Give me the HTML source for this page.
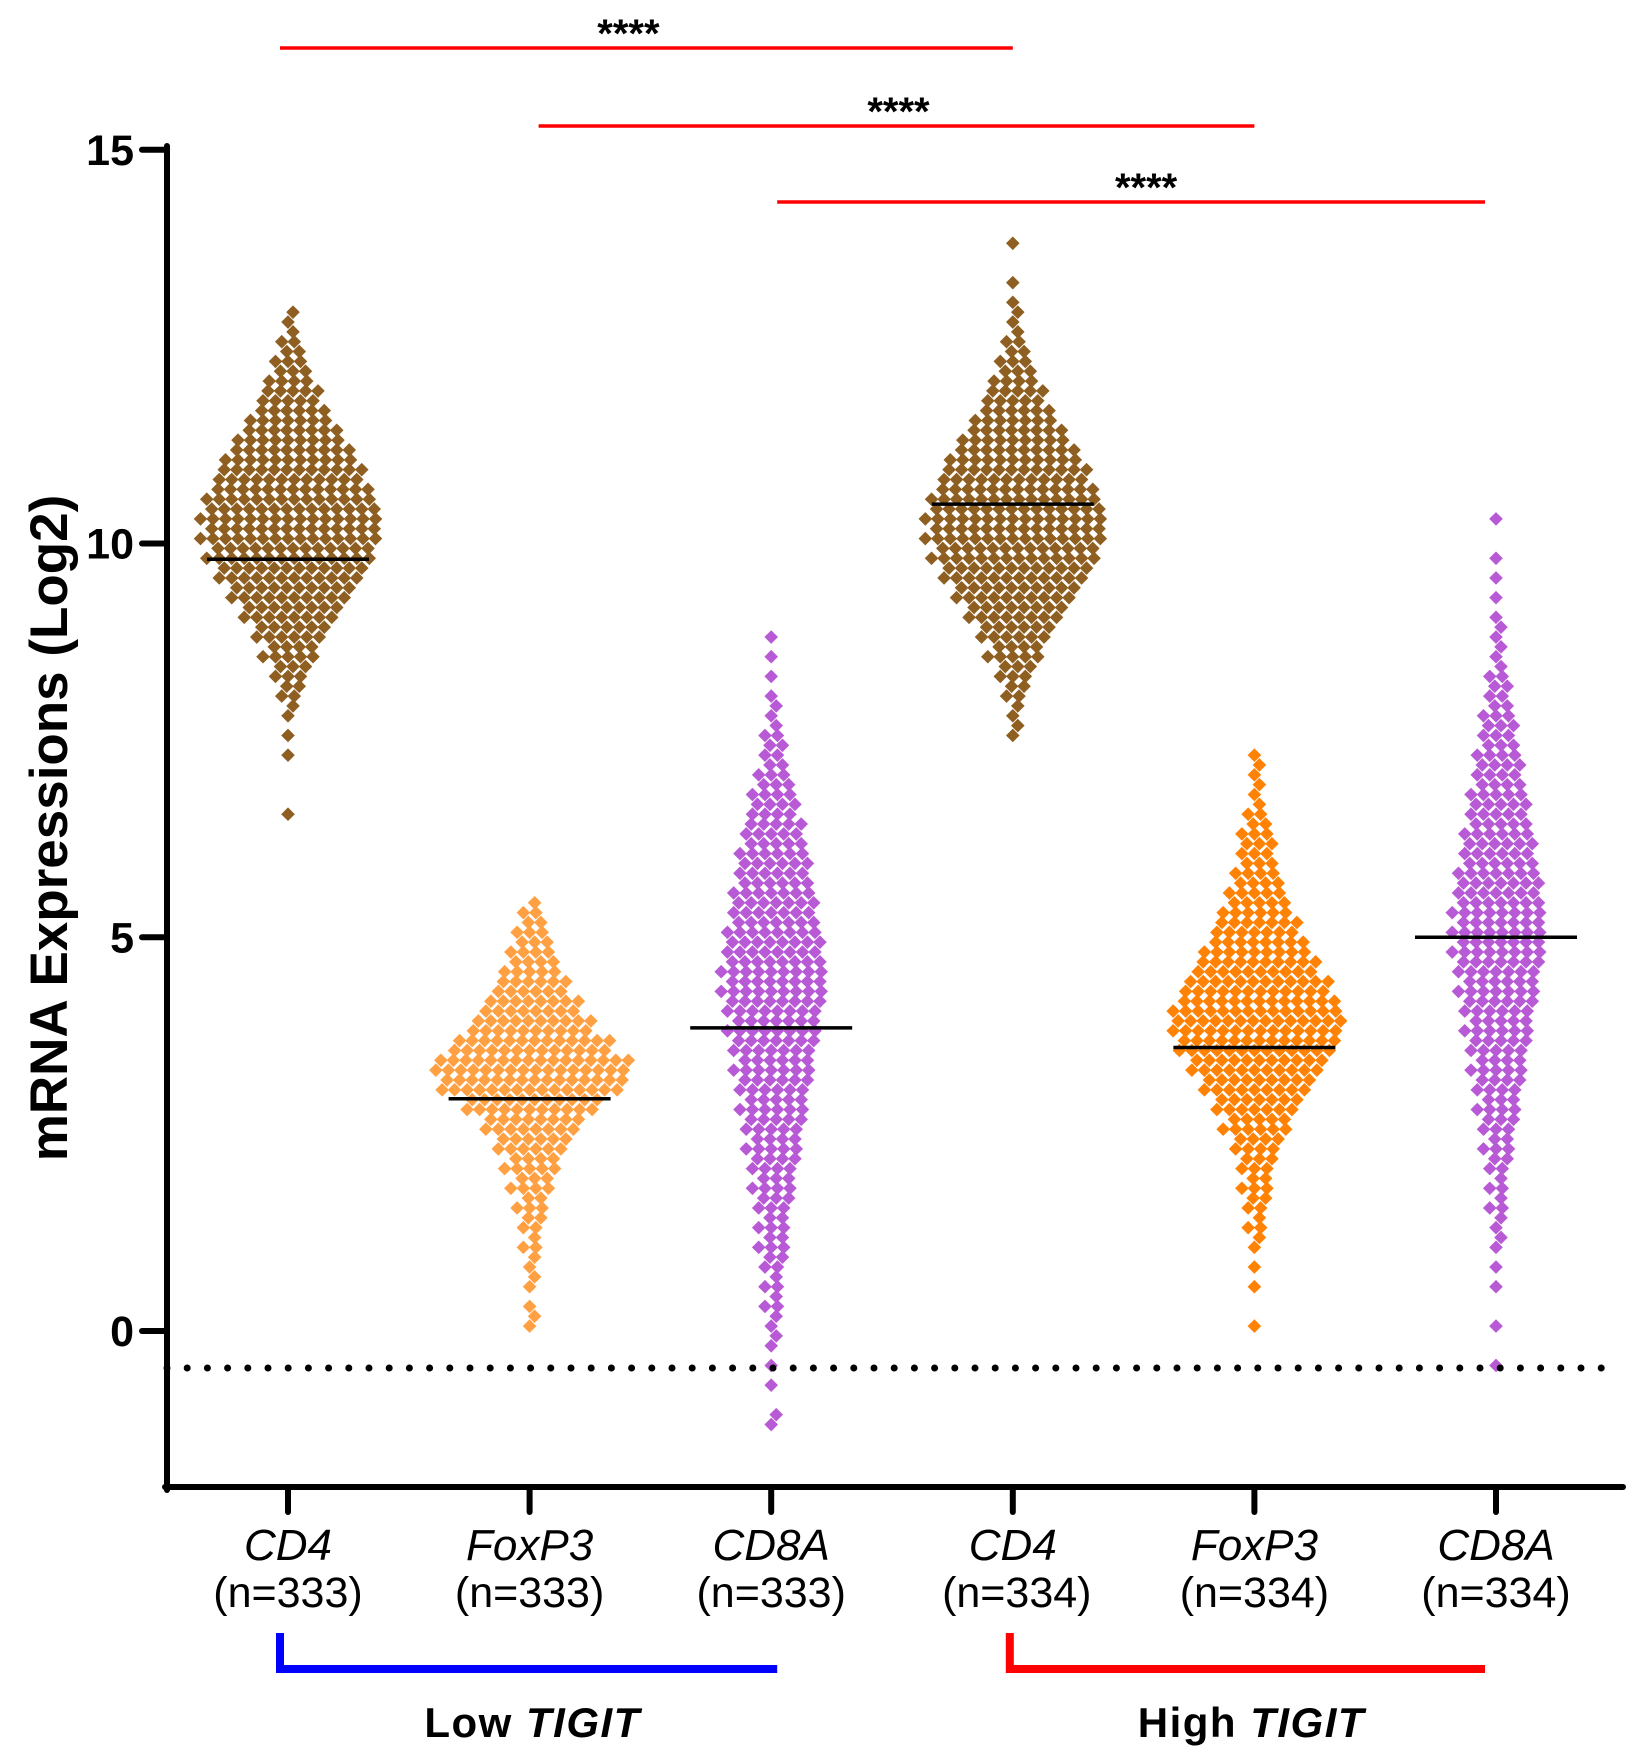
<!DOCTYPE html>
<html><head><meta charset="utf-8"><style>
html,body{margin:0;padding:0;background:#fff;}
svg{display:block;font-family:"Liberation Sans",Arial,sans-serif;}
</style></head><body>
<svg id="chart" width="1642" height="1757" viewBox="0 0 1642 1757">
<g id="pts"></g>
<g id="axes"></g>
</svg>
<script>
const categories = ["CD4","FoxP3","CD8A","CD4","FoxP3","CD8A"];
const nLabels = ["(n=333)","(n=333)","(n=333)","(n=334)","(n=334)","(n=334)"];
const medians = [9.8, 2.95, 3.85, 10.5, 3.6, 5.0];
const binStarts = [6.25, 0, -1.25, 7.5, 0, -0.5];
const cd4LowBins = [0,1,0,0,1,1,2,4,6,9,12,16,20,24,27,29,29,27,24,21,17,13,10,7,5,3,2];
const foxLowBins = [2,1,2,2,3,4,5,7,9,12,16,22,30,32,26,20,16,12,9,7,5,3];
const cd8LowBins = [2,0,1,1,2,2,3,3,4,5,5,6,7,8,9,10,11,12,13,14,15,16,17,17,16,15,14,13,12,11,10,8,7,5,4,3,2,1,1,1,1];
const cd4HighBins = [2,2,4,6,9,12,16,20,24,27,29,29,27,24,21,17,13,10,7,5,3,2,1,1,0,1];
const foxHighBins = [1,0,1,1,2,3,4,5,6,8,11,14,18,22,26,28,27,24,20,17,14,11,9,7,6,5,3,2,2,1];
const cd8HighBins = [1,0,1,0,1,1,2,2,3,3,4,5,6,7,8,9,10,11,12,13,14,15,15,15,14,13,12,11,10,9,8,7,6,5,4,3,2,2,1,1,1,1,0,1];
const yTicks = [0,5,10,15];
const sigBars = [[0,3,"****"],[1,4,"****"],[2,5,"****"]];

const allBins=[cd4LowBins,foxLowBins,cd8LowBins,cd4HighBins,foxHighBins,cd8HighBins];
const colors=["#8E5F21","#FFA043","#B85AD6","#8E5F21","#FF8205","#B85AD6"];
const binW=0.25;
const y=v=>1331-v*78.75;
const x=i=>288+i*241.6;
const NS="http://www.w3.org/2000/svg";
function mk(tag,attrs,parent){const e=document.createElementNS(NS,tag);for(const k in attrs)e.setAttribute(k,attrs[k]);parent.appendChild(e);return e;}
const pts=document.getElementById('pts'), ax=document.getElementById('axes');

allBins.forEach((bins,g)=>{
  const grp=mk('g',{fill:colors[g]},pts);
  
  
  bins.forEach((c,b)=>{
    const v0=binStarts[g]+b*binW;
    for(let i=0;i<c;i++){
      const row=i%2, k=Math.floor(i/2), rowN=Math.ceil((c-row)/2);
      const off=(k-(rowN-1)/2)*12.5 + (row?5:0);
      const v=v0+binW*(row?0.75:0.25);
      const cx=x(g)+off, cy=y(v);
      const r=6.8;
      const d=mk('path',{d:`M${cx} ${cy-r}L${cx+r} ${cy}L${cx} ${cy+r}L${cx-r} ${cy}Z`},grp);
      
      
    }
  });
});
medians.forEach((m,g)=>{
  const l=mk('line',{x1:x(g)-81,x2:x(g)+81,y1:y(m),y2:y(m),stroke:'#000','stroke-width':3.5},ax);
  
  
});
const dl=mk('line',{x1:167,x2:1610,y1:1368,y2:1368,stroke:'#000','stroke-width':7,'stroke-dasharray':'0 20.2','stroke-linecap':'round'},ax);


const ya=mk('line',{x1:167,x2:167,y1:146,y2:1490,stroke:'#000','stroke-width':6,'stroke-linecap':'round'},ax);


const xa=mk('line',{x1:165,x2:1623,y1:1487,y2:1487,stroke:'#000','stroke-width':6,'stroke-linecap':'round'},ax);


yTicks.forEach(t=>{
  const tk=mk('line',{x1:142,x2:167,y1:y(t),y2:y(t),stroke:'#000','stroke-width':6,'stroke-linecap':'round'},ax);
  
  
  const tl=mk('text',{x:134,y:y(t)+15,'text-anchor':'end','font-size':43,'font-weight':'bold'},ax);
  tl.textContent=t;
  
  
});
categories.forEach((c,g)=>{
  const tk=mk('line',{x1:x(g),x2:x(g),y1:1487,y2:1512,stroke:'#000','stroke-width':6,'stroke-linecap':'round'},ax);
  
  
  const t1=mk('text',{x:x(g),y:1560,'text-anchor':'middle','font-size':44,'font-style':'italic'},ax);
  t1.textContent=c;
  
  
  const t2=mk('text',{x:x(g)+(g==3?4:0),y:1607,'text-anchor':'middle','font-size':43},ax);
  t2.textContent=nLabels[g];
  
  
});
const yt=mk('text',{x:0,y:0,transform:'translate(67 828) rotate(-90)','text-anchor':'middle','font-size':53,'font-weight':'bold'},ax);
yt.textContent='mRNA Expressions (Log2)';


const barY=[48,126,202];
const barX1Off=[-8,9,6], barX2Off=[0,0,-11], starOff=[-18,2,15];
sigBars.forEach((s,i)=>{
  const x1=x(s[0])+barX1Off[i], x2=x(s[1])+barX2Off[i];
  const l=mk('line',{x1:x1,x2:x2,y1:barY[i],y2:barY[i],stroke:'#FF0000','stroke-width':3.5},ax);
  
  
  const t=mk('text',{x:(x1+x2)/2+starOff[i],y:barY[i]-1,'text-anchor':'middle','font-size':40,'font-weight':'bold'},ax);
  t.textContent=s[2];
  
  
});
[[0,2,'#0000FF','Low ',-8,6],[3,5,'#FF0000','High ',-3,-11]].forEach((b,i)=>{
  const x1=x(b[0])+b[4], x2=x(b[1])+b[5];
  const p=mk('path',{d:`M${x1} 1633V1669H${x2}`,fill:'none',stroke:b[2],'stroke-width':8},ax);
  
  
  const t=mk('text',{x:(x1+x2)/2+4,y:1737,'text-anchor':'middle','font-size':42,'font-weight':'bold','letter-spacing':'1.5'},ax);
  
  
  t.appendChild(document.createTextNode(b[3]));
  const ts=mk('tspan',{'font-style':'italic'},t);
  ts.textContent='TIGIT';
});
</script>
</body></html>
